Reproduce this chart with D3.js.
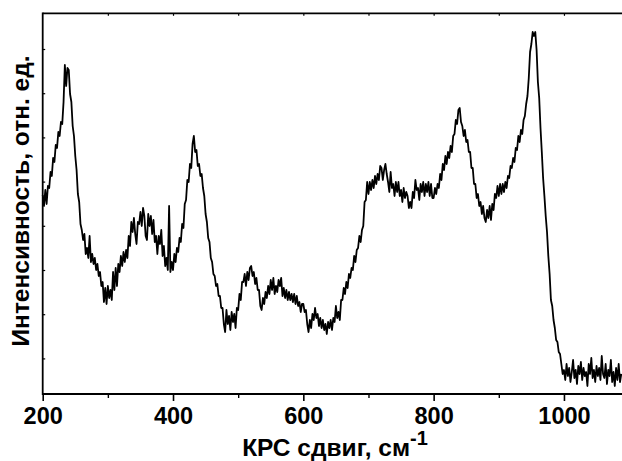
<!DOCTYPE html>
<html>
<head>
<meta charset="utf-8">
<script src="https://cdn.jsdelivr.net/npm/d3@7"></script>
<style>
  html, body { margin: 0; padding: 0; background: #fff; }
  svg { display: block; }
  text { font-family: "Liberation Sans", Arial, Helvetica, sans-serif; font-weight: bold; fill: #000; }
</style>
</head>
<body>
<svg id="chart" width="622" height="461"></svg>
<script>
// Raman shift (cm^-1), step 2
const wavenumbers = d3.range(200, 1089, 2);
// Intensity, arbitrary units
const intensity = [
  199, 188, 204, 190, 208, 206, 222, 218, 236, 232, 249, 246, 262, 258, 272, 270, 292, 329, 308, 326,
  324, 300, 292, 268, 258, 238, 224, 200, 192, 170, 164, 154, 160, 140, 146, 136, 158, 132, 140, 130,
  136, 124, 130, 118, 122, 108, 112, 92, 106, 90, 108, 96, 104, 94, 122, 104, 126, 108, 130, 122,
  138, 128, 142, 132, 144, 136, 158, 148, 172, 162, 176, 160, 150, 172, 170, 182, 168, 186, 178, 158,
  154, 180, 168, 178, 160, 174, 152, 158, 140, 158, 150, 164, 138, 148, 128, 136, 124, 188, 122, 132,
  124, 140, 132, 146, 142, 156, 152, 170, 166, 190, 194, 214, 212, 230, 226, 250, 258, 242, 244, 228,
  230, 218, 220, 206, 198, 180, 172, 156, 152, 136, 132, 120, 118, 108, 110, 98, 98, 86, 86, 70,
  62, 84, 70, 78, 64, 82, 72, 80, 66, 86, 84, 100, 94, 112, 112, 120, 108, 122, 114, 126,
  128, 118, 122, 110, 116, 104, 104, 88, 84, 96, 90, 102, 96, 108, 100, 114, 104, 116, 100, 108,
  102, 114, 108, 116, 98, 106, 96, 104, 94, 102, 94, 100, 92, 100, 90, 98, 88, 92, 82, 90,
  90, 82, 84, 70, 62, 74, 66, 80, 74, 86, 76, 80, 68, 76, 66, 74, 64, 70, 60, 72,
  66, 74, 64, 76, 72, 88, 76, 82, 74, 94, 94, 106, 100, 112, 106, 120, 116, 126, 124, 138,
  132, 144, 146, 158, 152, 164, 168, 192, 194, 212, 200, 212, 204, 214, 206, 218, 210, 220, 214, 228,
  226, 214, 224, 230, 220, 212, 202, 222, 206, 210, 198, 212, 202, 212, 198, 204, 192, 206, 196, 202,
  198, 186, 192, 186, 202, 196, 214, 204, 206, 194, 210, 202, 212, 198, 210, 202, 212, 198, 210, 196,
  196, 206, 200, 210, 206, 220, 214, 230, 224, 238, 230, 242, 236, 248, 242, 258, 260, 274, 270, 284,
  286, 272, 268, 258, 264, 252, 254, 242, 242, 226, 226, 210, 210, 196, 200, 188, 192, 180, 188, 176,
  172, 184, 176, 188, 174, 190, 184, 200, 196, 208, 198, 210, 200, 210, 202, 212, 206, 218, 216, 228,
  226, 236, 232, 246, 244, 258, 252, 264, 260, 274, 278, 290, 298, 316, 342, 350, 362, 358, 362, 344,
  312, 296, 266, 242, 216, 198, 178, 162, 138, 120, 94, 88, 74, 66, 54, 52, 42, 40, 30, 20,
  24, 14, 30, 18, 26, 12, 22, 34, 16, 24, 10, 28, 20, 32, 14, 26, 18, 22, 8, 30,
  20, 36, 16, 24, 12, 28, 18, 26, 14, 38, 20, 16, 30, 10, 24, 18, 34, 12, 22, 8,
  26, 14, 30, 12, 20
];
const xTicksMajor = [200, 400, 600, 800, 1000];
const xTicksMinor = [300, 500, 700, 900];
const xTicksTop = [300, 400, 500, 600, 700, 800, 900, 1000];
const yTicks = [35.6, 79.8, 124, 168.2, 212.4, 256.6, 300.8, 345];
const xLabel = "КРС сдвиг, см";
const xLabelSup = "-1";
const yLabel = "Интенсивность, отн. ед.";

const svg = d3.select("#chart");
const pLeft = 42.7, pRight = 622.6, pTop = 13.3, pBottom = 394;
const x = d3.scaleLinear().domain([200, 1090]).range([pLeft, pRight]);
const y = d3.scaleLinear().domain([0, 380.7]).range([pBottom, pTop]);

const data = wavenumbers.map((w, i) => ({ w, v: intensity[i] })).filter(d => d.v !== undefined);

// spectrum
svg.append("path")
  .datum(data)
  .attr("fill", "none")
  .attr("stroke", "#000")
  .attr("stroke-width", 1.8)
  .attr("stroke-linejoin", "round")
  .attr("d", d3.line().x(d => x(d.w)).y(d => y(d.v)));

// bottom axis
const gB = svg.append("g").attr("transform", `translate(0,${pBottom})`)
  .call(d3.axisBottom(x).tickValues(xTicksMajor).tickSize(7).tickPadding(6).tickFormat(d3.format("d")));
gB.selectAll("text").attr("font-size", 23.5).attr("font-family", null).attr("font-weight", "bold");
gB.select(".domain").remove();
gB.selectAll("line").attr("stroke-width", 1.6);
svg.append("g").attr("transform", `translate(0,${pBottom})`)
  .call(d3.axisBottom(x).tickValues(xTicksMinor).tickSize(4).tickFormat(""))
  .call(g => g.select(".domain").remove())
  .selectAll("line").attr("stroke-width", 1.4);

// top axis ticks
svg.append("g").attr("transform", `translate(0,${pTop})`)
  .call(d3.axisBottom(x).tickValues(xTicksTop).tickSize(2.5).tickFormat(""))
  .call(g => g.select(".domain").remove())
  .selectAll("line").attr("stroke-width", 1.2);

// left axis ticks
svg.append("g").attr("transform", `translate(${pLeft},0)`)
  .call(d3.axisRight(y).tickValues(yTicks).tickSize(2.5).tickFormat(""))
  .call(g => g.select(".domain").remove())
  .selectAll("line").attr("stroke-width", 1.2);

// frame lines
svg.append("line").attr("x1", pLeft).attr("x2", 622).attr("y1", pBottom).attr("y2", pBottom)
  .attr("stroke", "#000").attr("stroke-width", 1.8);
svg.append("line").attr("x1", pLeft).attr("x2", 622).attr("y1", pTop).attr("y2", pTop)
  .attr("stroke", "#000").attr("stroke-width", 1.8);
svg.append("line").attr("x1", pLeft).attr("x2", pLeft).attr("y1", pTop - 0.9).attr("y2", pBottom + 0.9)
  .attr("stroke", "#000").attr("stroke-width", 1.8);

// x label
const xl = svg.append("text").attr("x", 335).attr("y", 456).attr("text-anchor", "middle").attr("font-size", 24.5);
xl.append("tspan").text(xLabel);
xl.append("tspan").attr("dy", -11).attr("font-size", 20).text(xLabelSup);

// y label
svg.append("text")
  .attr("transform", `translate(29,201) rotate(-90)`)
  .attr("text-anchor", "middle").attr("font-size", 24.5)
  .text(yLabel);
</script>
</body>
</html>
